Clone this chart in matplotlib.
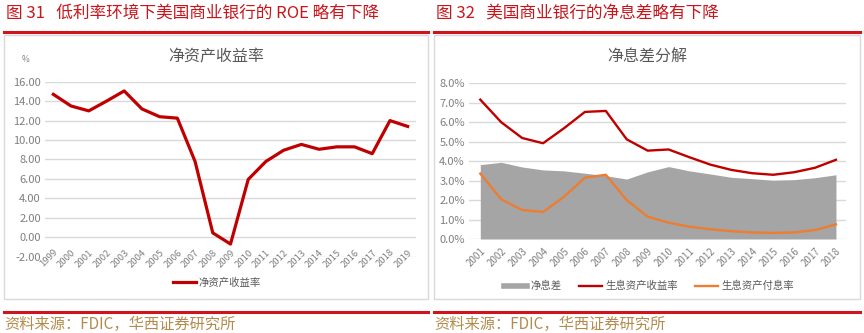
import matplotlib
matplotlib.use("Agg")
import matplotlib.pyplot as plt
from matplotlib.patches import Rectangle
from matplotlib.lines import Line2D

plt.rcParams['font.family'] = ['Noto Sans CJK SC', 'DejaVu Sans']

# ---- data ----
roe_years = [str(y) for y in range(1999, 2020)]
roe = [14.7, 13.5, 13.0, 14.0, 15.05, 13.2, 12.4, 12.25, 7.8, 0.45, -0.7,
       5.95, 7.8, 8.95, 9.55, 9.05, 9.3, 9.3, 8.6, 12.0, 11.4]

nim_years = [str(y) for y in range(2001, 2019)]
nim = [3.82, 3.94, 3.70, 3.55, 3.50, 3.38, 3.25, 3.08, 3.45, 3.72, 3.50,
       3.34, 3.17, 3.10, 3.02, 3.05, 3.15, 3.30]
asset_yield = [7.16, 6.0, 5.19, 4.92, 5.69, 6.53, 6.58, 5.12, 4.54, 4.60, 4.20,
               3.82, 3.55, 3.38, 3.30, 3.43, 3.66, 4.07]
funding_cost = [3.36, 2.04, 1.49, 1.39, 2.17, 3.15, 3.30, 2.0, 1.15, 0.84, 0.63,
                0.50, 0.40, 0.34, 0.31, 0.34, 0.46, 0.75]

W, H = 864, 333
fig = plt.figure(figsize=(W / 100, H / 100), dpi=100)

def fx(px):
    return px / W

def fy(py):
    return 1 - py / H

RED = '#C00000'
ORANGE = '#ED7D31'
GRAYFILL = '#A5A5A5'
GRID = '#D9D9D9'
TICK = '#7F7F7F'
TITLE_RED = '#C8161D'
SRC = '#B38B4D'

# headers, rules and panels
fig.text(fx(6), fy(13), '图 31   低利率环境下美国商业银行的 ROE 略有下降', color=TITLE_RED,
         fontsize=12, va='center', ha='left')
fig.text(fx(436), fy(13), '图 32   美国商业银行的净息差略有下降', color=TITLE_RED,
         fontsize=12, va='center', ha='left')
for x0, x1 in [(4, 428), (434, 860)]:
    fig.add_artist(Line2D([fx(x0), fx(x1)], [fy(32), fy(32)], color='#D0141C', lw=2.2))
    fig.add_artist(Line2D([fx(x0), fx(x1)], [fy(312), fy(312)], color='#D0141C', lw=2.2))
    fig.add_artist(Rectangle((fx(x0), fy(299)), fx(x1) - fx(x0), fy(35) - fy(299),
                             fill=False, edgecolor='#D9D9D9', lw=1.0))
fig.text(fx(4), fy(324), '资料来源：FDIC，华西证券研究所', color=SRC, fontsize=11,
         va='center', ha='left')
fig.text(fx(434), fy(324), '资料来源：FDIC，华西证券研究所', color=SRC, fontsize=11,
         va='center', ha='left')

# ---- left chart ----
ax1 = fig.add_axes([fx(45), fy(256.7), fx(416) - fx(45), fy(81.7) - fy(256.7)])
x1 = list(range(len(roe_years)))
ax1.plot(x1, roe, color=RED, lw=2.3, solid_joinstyle='round')
ax1.set_xlim(-0.47, len(roe_years) - 0.53)
ax1.set_ylim(-2, 16)
ax1.set_yticks(range(-2, 17, 2))
ax1.set_yticklabels([f'{v:.2f}' for v in range(-2, 17, 2)])
ax1.set_xticks(x1)
ax1.set_xticklabels(roe_years, rotation=45, ha='right', rotation_mode='anchor')
ax1.grid(axis='y', color=GRID, lw=1)
ax1.set_axisbelow(True)
for s in ax1.spines.values():
    s.set_visible(False)
ax1.tick_params(axis='both', length=0, colors=TICK)
ax1.tick_params(axis='y', labelsize=8, pad=3)
ax1.tick_params(axis='x', labelsize=6.8, pad=-6.5)
fig.text(fx(25), fy(60), '%', color=TICK, fontsize=6, ha='center', va='center')
fig.text(fx(216), fy(57), '净资产收益率', color='#595959', fontsize=11.5, ha='center', va='center')
leg1 = fig.legend(handles=[Line2D([], [], color=RED, lw=2.3)], labels=['净资产收益率'],
                  loc='center', bbox_to_anchor=(fx(217), fy(283)), frameon=False,
                  fontsize=7.5, handlelength=2.2, handletextpad=0.3)
for t in leg1.get_texts():
    t.set_color('#595959')

# ---- right chart ----
ax2 = fig.add_axes([fx(469), fy(239), fx(846) - fx(469), fy(83.3) - fy(239)])
x2 = list(range(len(nim_years)))
ax2.fill_between(x2, nim, 0, color=GRAYFILL, lw=0)
ax2.plot(x2, asset_yield, color=RED, lw=1.7)
ax2.plot(x2, funding_cost, color=ORANGE, lw=1.7)
ax2.set_xlim(-0.54, len(nim_years) - 0.52)
ax2.set_ylim(0, 8)
ax2.set_yticks(range(0, 9))
ax2.set_yticklabels([f'{v:.1f}%' for v in range(0, 9)])
ax2.set_xticks(x2)
ax2.set_xticklabels(nim_years, rotation=45, ha='right', rotation_mode='anchor')
ax2.grid(axis='y', color=GRID, lw=1)
ax2.set_axisbelow(True)
for s in ax2.spines.values():
    s.set_visible(False)
ax2.tick_params(axis='both', length=0, colors=TICK)
ax2.tick_params(axis='y', labelsize=8, pad=3)
ax2.tick_params(axis='x', labelsize=7, pad=5)
fig.text(fx(647), fy(57), '净息差分解', color='#595959', fontsize=11.5, ha='center', va='center')
handles = [Line2D([], [], color=GRAYFILL, lw=4),
           Line2D([], [], color=RED, lw=1.7),
           Line2D([], [], color=ORANGE, lw=1.7)]
leg2 = fig.legend(handles=handles, labels=['净息差', '生息资产收益率', '生息资产付息率'],
                  loc='center', bbox_to_anchor=(fx(649), fy(286)), frameon=False, ncol=3,
                  fontsize=7.5, handlelength=2.2, handletextpad=0.3, columnspacing=1.7)
for t in leg2.get_texts():
    t.set_color('#595959')

fig.savefig('out.png', dpi=100)
